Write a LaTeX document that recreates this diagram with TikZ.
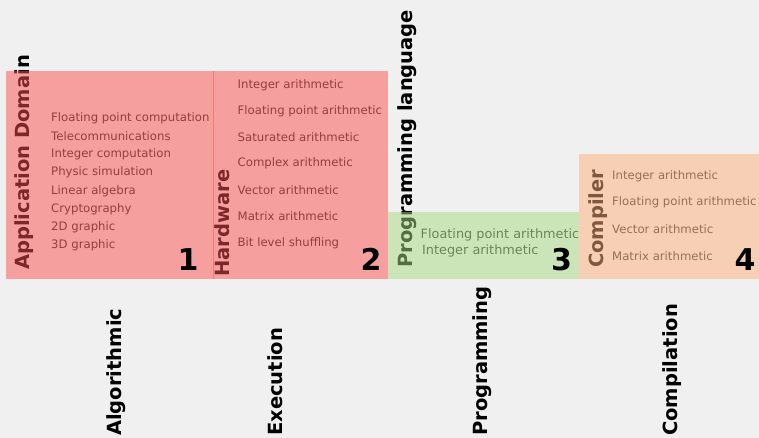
\documentclass[tikz,border=0pt]{standalone}
\usepackage{fontspec}
\setmainfont{DejaVu Sans}
\definecolor{bgc}{RGB}{240,240,240}
\definecolor{boxred}{RGB}{250,80,80}
\definecolor{boxgreen}{RGB}{170,220,130}
\definecolor{boxorange}{RGB}{255,176,124}

\begin{document}
\begin{tikzpicture}[x=1pt,y=-1pt,
  head/.style={rotate=90,anchor=base west,inner sep=0pt,font=\fontsize{19.5}{20}\selectfont\bfseries},
  item/.style={anchor=base west,inner sep=0pt,text=black!82,font=\fontsize{11.7}{12}\selectfont},
  bigitem/.style={item,font=\fontsize{12.85}{13}\selectfont},
  num/.style={anchor=base west,inner sep=0pt,font=\fontsize{30}{30}\selectfont\bfseries},
  panel/.style={fill opacity=0.5}]
\path[use as bounding box,fill=bgc] (0,0) rectangle (759,438);
% headings, covered by the panels
\node[head] (dom) at (29.5,270) {Application Domain};
\node[head] (hw) at (229.5,277) {Hardware};
\node[head] (lang) at (412,268) {Programming language};
\node[head] (comp) at (603,268) {Compiler};
% items
\foreach \t/\y [count=\i] in {Floating point computation/121.5,Telecommunications/141,Integer computation/157.5,Physic simulation/176,Linear algebra/194.5,Cryptography/212,2D graphic/230,3D graphic/248.5}
\node[item] (app\i) at (51,\y) {\t};
\foreach \t/\y [count=\i] in {Integer arithmetic/88.5,Floating point arithmetic/114.5,Saturated arithmetic/141.5,Complex arithmetic/166.5,Vector arithmetic/194.5,Matrix arithmetic/221,Bit level shuffling/246}
\node[item] (hw\i) at (237.5,\y) {\t};
\node[bigitem] (lang1) at (420.5,238) {Floating point arithmetic};
\node[bigitem] (lang2) at (422,254.5) {Integer arithmetic};
\foreach \t/\y [count=\i] in {Integer arithmetic/179.5,Floating point arithmetic/206,Vector arithmetic/233.5,Matrix arithmetic/260}
\node[item] (comp\i) at (612,\y) {\t};
% panels
\fill[boxred,panel] (6,71) rectangle (213.5,279);
\fill[boxred,panel] (212.5,71) rectangle (387.5,279);
\fill[boxgreen,panel] (387.5,212) rectangle (578.5,279);
\fill[boxorange,panel] (578.5,154) rectangle (759,279);
% numbers
\node[num] (n1) at (177.5,270) {1};
\node[num] (n2) at (360.5,270) {2};
\node[num] (n3) at (551,270) {3};
\node[num] (n4) at (734.5,270) {4};
% stages
\node[head] (alg) at (121,436) {Algorithmic};
\node[head] (exe) at (282,436) {Execution};
\node[head] (prog) at (487,436) {Programming};
\node[head] (cpl) at (677,436) {Compilation};
\end{tikzpicture}
\end{document}
